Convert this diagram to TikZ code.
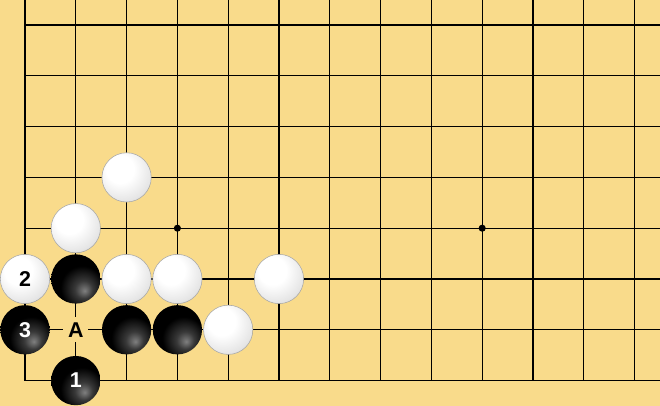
\documentclass[tikz,border=0pt]{standalone}
\usepackage{fontspec}
\setmainfont{Liberation Sans}
\definecolor{board}{RGB}{249,219,139}
\pgfdeclareradialshading{blackstone}{\pgfpoint{9bp}{-12bp}}{color(0bp)=(black!50); color(9bp)=(black!78); color(22bp)=(black); color(80bp)=(black)}
\pgfdeclareradialshading{whitestone}{\pgfpoint{-8bp}{10bp}}{color(0bp)=(white); color(14bp)=(white); color(30bp)=(black!10); color(45bp)=(black!28); color(58bp)=(black!48); color(80bp)=(black!55)}
\tikzset{
  stone/.style={circle,minimum size=0.97cm,inner sep=0pt,font=\fontsize{12pt}{14pt}\selectfont\bfseries},
  wstone/.style={stone,shading=whitestone,draw=black!35,line width=0.3pt,text=black},
  bstone/.style={stone,shading=blackstone,text=white}
}
\begin{document}
\begin{tikzpicture}
\useasboundingbox (-0.492,-7.5) rectangle (12.5,0.492);
\fill[board] (-0.492,-7.5) rectangle (12.5,0.492);
% grid
\foreach \x in {0,...,12} \draw[line width=0.7pt] (\x,0.492) -- (\x,-7);
\foreach \y in {0,...,7} \draw[line width=0.7pt] (0,-\y) -- (12.5,-\y);
\fill (3,-4) circle (0.07);
\fill (9,-4) circle (0.07);
% point A
\node[fill=board,minimum size=0.5cm,inner sep=0pt,font=\fontsize{12pt}{14pt}\selectfont\bfseries] (pA) at (1,-6) {A};
% white stones
\node[wstone] (w1) at (2,-3) {};
\node[wstone] (w2) at (1,-4) {};
\node[wstone] (w3) at (0,-5) {2};
\node[wstone] (w4) at (2,-5) {};
\node[wstone] (w5) at (3,-5) {};
\node[wstone] (w6) at (5,-5) {};
\node[wstone] (w7) at (4,-6) {};
% black stones
\node[bstone] (b1) at (1,-5) {};
\node[bstone] (b2) at (0,-6) {3};
\node[bstone] (b3) at (2,-6) {};
\node[bstone] (b4) at (3,-6) {};
\node[bstone] (b5) at (1,-7) {1};
\end{tikzpicture}
\end{document}
